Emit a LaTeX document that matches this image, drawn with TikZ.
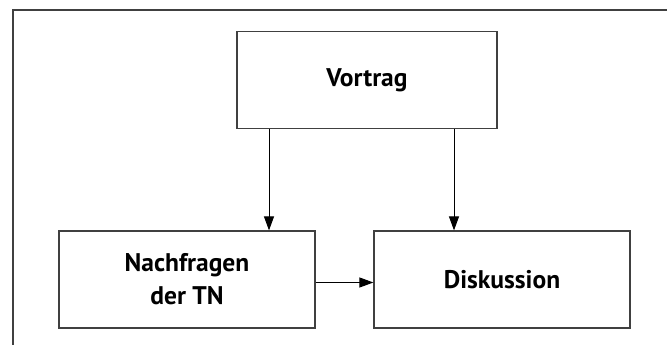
\documentclass[tikz,border=0pt]{standalone}
\usepackage{fontspec}
\setmainfont{PT Sans}
\usetikzlibrary{arrows.meta}

\tikzset{
    kasten/.style={draw=black!75, line width=1.2pt, minimum width=256pt, minimum height=97pt,
        align=center, font=\fontsize{25.5}{33}\selectfont\bfseries, inner sep=0pt},
    pfeil/.style={draw=black, line width=1pt, -{Triangle[length=14pt, width=10pt]}}
}

\begin{document}
\begin{tikzpicture}[x=1pt, y=1pt]
    \useasboundingbox (0,0) rectangle (667,345);

    % Rahmen
    \draw[black!75, line width=1.4pt] (13,0) -- (13,335) -- (667,335);

    % Kaesten
    \node[kasten, minimum width=260pt] (vortrag) at (367, 265) {Vortrag};
    \node[kasten] (nach) at (187, 65.5) {Nachfragen\\der TN};
    \node[kasten] (disk) at (502, 65.5) {Diskussion};

    % Pfeile
    \draw[pfeil] ([xshift=-98pt]vortrag.south) -- ([xshift=-98pt]vortrag.south |- nach.north);
    \draw[pfeil] ([xshift=87pt]vortrag.south) -- ([xshift=87pt]vortrag.south |- disk.north);
    \draw[pfeil] ([yshift=-3pt]nach.east) -- ([yshift=-3pt]disk.west);
\end{tikzpicture}
\end{document}
